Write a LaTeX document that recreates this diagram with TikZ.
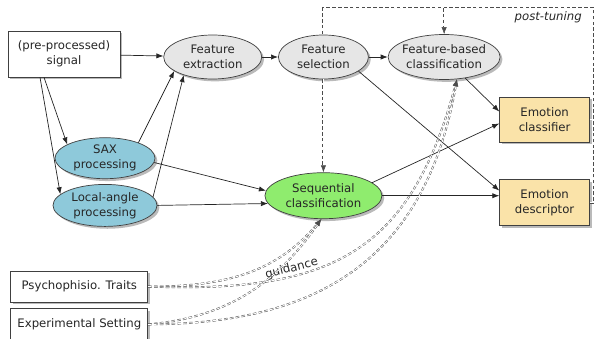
\documentclass[tikz,border=0pt]{standalone}
\usepackage{fontspec}
\setmainfont{DejaVu Sans}
\usepackage{tikz}
\usetikzlibrary{shapes.geometric}
\usetikzlibrary{positioning}
\usetikzlibrary{shadows}
\usetikzlibrary{arrows.meta}

\definecolor{procgray}{HTML}{E6E6E6}
\definecolor{saxblue}{HTML}{8EC9DA}
\definecolor{seqgreen}{HTML}{8FEC6E}
\definecolor{emowheat}{HTML}{FAE3A9}
\definecolor{linegray}{HTML}{404040}

\tikzset{
  >={Latex[length=6pt,width=4.5pt]},
  every node/.style={font=\fontsize{10}{12.8}\selectfont, text=black!85, align=center},
  softshadow/.style={drop shadow={shadow xshift=2pt, shadow yshift=-2pt, fill=black!45, opacity=0.6}},
  proc/.style={ellipse, draw=linegray, line width=0.6pt, fill=procgray, inner sep=0pt, softshadow},
  databox/.style={rectangle, draw=linegray, line width=0.6pt, fill=white, inner sep=0pt, softshadow},
  flow/.style={->, draw=black!85, line width=0.6pt},
  guide/.style={densely dashed, draw=black!70, double=white, double distance=0.8pt, line width=0.4pt},
}

\begin{document}
\begin{tikzpicture}[x=0.03cm, y=-0.03cm]
        \useasboundingbox (0,0) rectangle (595,338);
        % top row
        \node (signal) [databox, minimum width=3.36cm, minimum height=1.38cm] at (64,54) {(pre-processed)\\signal};
        \node (fext) [proc, minimum width=2.94cm, minimum height=1.32cm, right=1.29cm of signal, yshift=-0.09cm] {Feature\\extraction}
        edge [flow, <-] (signal);
        \node (fsel) [proc, minimum width=2.7cm, minimum height=1.32cm, right=0.48cm of fext] {Feature\\selection}
        edge [flow, <-] (fext);
        \node (fbc) [proc, minimum width=3.36cm, minimum height=1.35cm, inner xsep=-6pt, right=0.57cm of fsel] {Feature-based\\classification}
        edge [flow, <-] (fsel);
        % processing branch
        \node (sax) [proc, fill=saxblue, minimum width=3cm, minimum height=1.23cm, below=1.8cm of signal, xshift=1.23cm] {SAX\\processing};
        \node (local) [proc, fill=saxblue, minimum width=3.12cm, minimum height=1.26cm, below=0.15cm of sax] {Local-angle\\processing};
        \node (seq) [proc, fill=seqgreen, minimum width=3.51cm, minimum height=1.38cm, below=2.79cm of fsel] {Sequential\\classification};
        % outputs
        \node (edesc) [databox, fill=emowheat, minimum width=2.7cm, minimum height=1.38cm, right=3.51cm of seq, yshift=-0.21cm] {Emotion\\descriptor};
        \node (eclass) [databox, fill=emowheat, minimum width=2.7cm, minimum height=1.35cm, above=1.11cm of edesc] {Emotion\\classifier};
        % side information
        \node (traits) [databox, minimum width=4.11cm, minimum height=0.93cm, below=1.32cm of local, xshift=-0.77cm] {Psychophisio. Traits};
        \node (expset) [databox, minimum width=4.11cm, minimum height=0.93cm, below=0.18cm of traits] {Experimental Setting};

        \draw [flow] ([xshift=-0.6cm]signal.south) -- (sax.160);
        \draw [flow] ([xshift=-0.72cm]signal.south) -- (local.166);
        \draw [flow] (sax.25) -- (fext.200);
        \draw [flow] (local.10) -- (fext.212);
        \draw [flow] (sax.-5) -- (seq.175);
        \draw [flow] (local.east) -- (seq.188);
        \draw [flow] (fsel.-22) -- (edesc.165);
        \draw [flow] (fbc.-45) -- (eclass.170);
        \draw [flow] (seq.15) -- (eclass.185);
        \draw [flow] (seq.east) -- (seq.east -| edesc.west);

        % post-tuning loop
        \coordinate (tr) at (594,8);
        \draw [guide] (edesc.east) -- (edesc.east -| tr) -- (tr) -- (tr -| fsel.north) -- (fsel.north);
        \draw [guide] (eclass.east) -- (eclass.east -| tr);
        \draw [guide, ->] (fbc.north |- tr) -- (fbc.north);
        \draw [guide, ->] (fsel.south) -- (seq.north);
        \node (ptune) [below left=0.1cm and 0.36cm of tr, inner sep=0pt] {\itshape post-tuning};

        % guidance
        \draw [guide, ->] (traits.east) to [out=0, in=-130] (seq.-95);
        \draw [guide, ->] (traits.east) to [out=-2, in=-105, looseness=1.25] node [pos=0.32, sloped, above, inner sep=1.5pt] {guidance} (fbc.-60);
        \draw [guide, ->] (expset.east) to [out=5, in=-125] (seq.-95);
        \draw [guide, ->] (expset.east) to [out=0, in=-100, looseness=1.15] (fbc.-60);
    \end{tikzpicture}
\end{document}
